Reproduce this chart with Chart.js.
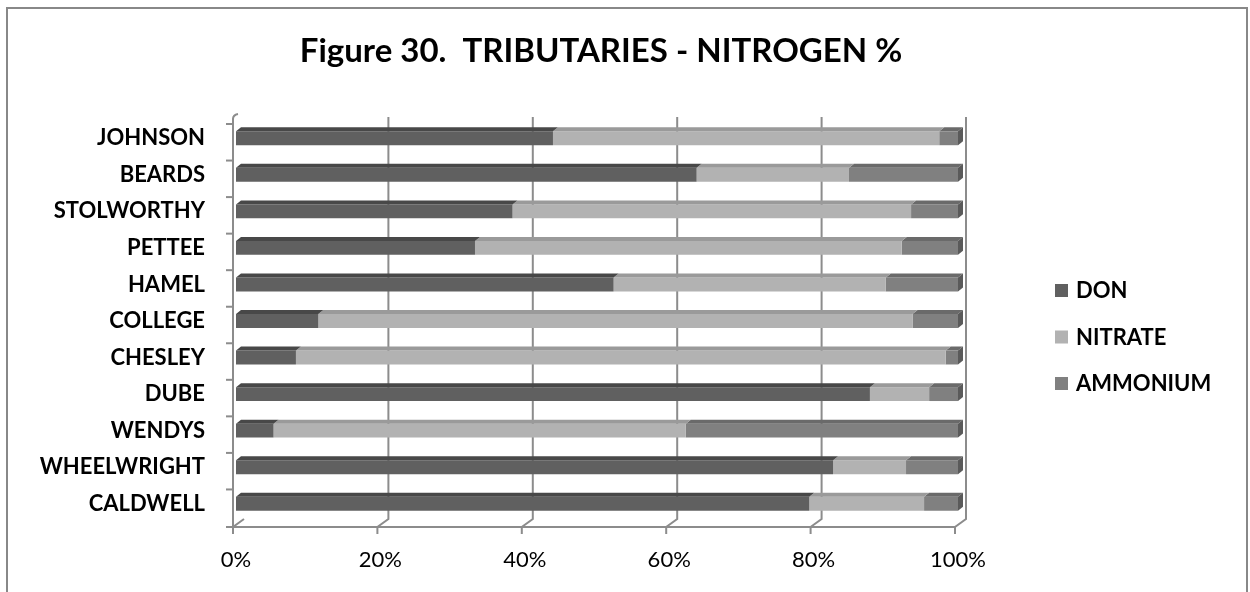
<!DOCTYPE html>
<html>
<head>
<meta charset="utf-8">
<title>Figure 30. Tributaries - Nitrogen %</title>
<script src="https://cdn.jsdelivr.net/npm/chart.js@4.4.1/dist/chart.umd.min.js"></script>
<style>
    html, body { margin: 0; padding: 0; background: #fff; }
    #wrap { width: 1250px; height: 592px; position: relative; }
</style>
</head>
<body>
<div id="wrap"><canvas id="nitrogenChart" width="1250" height="592"></canvas></div>
<script>
// Tributaries, top to bottom as in the figure
const tributaries = ['JOHNSON', 'BEARDS', 'STOLWORTHY', 'PETTEE', 'HAMEL', 'COLLEGE',
    'CHESLEY', 'DUBE', 'WENDYS', 'WHEELWRIGHT', 'CALDWELL'];

// Share of total nitrogen (%)
const donPct      = [43.9, 63.8, 38.3, 33.1, 52.3, 11.4, 8.3, 87.8, 5.2, 82.7, 79.4];
const nitratePct  = [53.5, 21.1, 55.2, 59.1, 37.7, 82.3, 90.0, 8.2, 57.1, 10.1, 15.9];
const ammoniumPct = [2.6, 15.1, 6.5, 7.8, 10.0, 6.3, 1.7, 4.0, 37.7, 7.2, 4.7];

const seriesNames = ['DON', 'NITRATE', 'AMMONIUM'];
const xTicks = [0, 20, 40, 60, 80, 100];

const seriesColors = ['#606060', '#b2b2b2', '#808080'];
const topColors = ['#484848', '#9a9a9a', '#6a6a6a'];
const sideColor = '#5a5a5a';
const lineGrey = '#8c8c8c';
const fontFamily = 'Lato, "Open Sans", sans-serif';

const ctx = document.getElementById('nitrogenChart').getContext('2d');

// Back wall grid, left wall and floor, drawn behind the bars
const frame3d = {
    id: 'frame3d',
    beforeDatasetsDraw(chart) {
        const {ctx, chartArea: a, scales: {x}} = chart;
        const floorY = a.bottom + 5;
        const backTop = a.top - 3;
        const backBottom = a.bottom - 3;
        ctx.save();
        ctx.strokeStyle = lineGrey;
        ctx.lineWidth = 2;
        xTicks.forEach(v => {
            const p = x.getPixelForValue(v);
            ctx.beginPath();
            if (v === 0) {
                ctx.moveTo(p + 8, backBottom);
            } else {
                ctx.moveTo(p + 8, backTop);
                ctx.lineTo(p + 8, backBottom);
            }
            ctx.lineTo(p - 3, floorY);
            ctx.lineTo(p - 3, floorY + 7);
            ctx.stroke();
        });
        // floor front edge
        const x0 = x.getPixelForValue(0) - 3;
        const x1 = x.getPixelForValue(100) - 3;
        ctx.beginPath();
        ctx.moveTo(x0, floorY);
        ctx.lineTo(x1, floorY);
        ctx.stroke();
        // left wall with category ticks
        ctx.beginPath();
        ctx.moveTo(x0, floorY);
        ctx.lineTo(x0, a.top - 1);
        ctx.quadraticCurveTo(x0, a.top - 5, x0 + 5, a.top - 6);
        ctx.stroke();
        const n = tributaries.length;
        for (let i = 0; i < n; i++) {
            const yy = a.top + (a.bottom - a.top) * i / n + 4;
            ctx.beginPath();
            ctx.moveTo(x0 - 7, yy);
            ctx.lineTo(x0, yy);
            ctx.stroke();
        }
        ctx.beginPath();
        ctx.moveTo(x0 - 7, floorY);
        ctx.lineTo(x0, floorY);
        ctx.stroke();
        ctx.restore();
    },
    afterDatasetsDraw(chart) {
        const {ctx} = chart;
        const dx = 5, dy = 4;
        const last = chart.data.datasets.length - 1;
        ctx.save();
        for (let di = last; di >= 0; di--) {
            const meta = chart.getDatasetMeta(di);
            meta.data.forEach(bar => {
                const {x: xe, y: yc, base, height} = bar.getProps(['x', 'y', 'base', 'height'], true);
                const top = yc - height / 2;
                const bottom = yc + height / 2;
                ctx.fillStyle = topColors[di];
                ctx.beginPath();
                ctx.moveTo(base, top);
                ctx.lineTo(base + dx, top - dy);
                ctx.lineTo(xe + dx, top - dy);
                ctx.lineTo(xe, top);
                ctx.closePath();
                ctx.fill();
                if (di === last) {
                    ctx.fillStyle = sideColor;
                    ctx.beginPath();
                    ctx.moveTo(xe, top);
                    ctx.lineTo(xe + dx, top - dy);
                    ctx.lineTo(xe + dx, bottom - dy);
                    ctx.lineTo(xe, bottom);
                    ctx.closePath();
                    ctx.fill();
                }
            });
        }
        ctx.restore();
    },
    afterDraw(chart) {
        const {ctx} = chart;
        ctx.save();
        // outer border
        ctx.strokeStyle = '#888';
        ctx.lineWidth = 2;
        ctx.strokeRect(7, 8, 1240, 600);
        // title
        ctx.fillStyle = '#000';
        ctx.font = 'bold 33px ' + fontFamily;
        ctx.textAlign = 'center';
        ctx.textBaseline = 'alphabetic';
        ctx.fillText('Figure 30.  TRIBUTARIES - NITROGEN %', 601, 62);
        // legend
        ctx.font = 'bold 22px ' + fontFamily;
        ctx.textAlign = 'left';
        ctx.textBaseline = 'middle';
        seriesNames.forEach((name, i) => {
            const cy = 290 + i * 46.5;
            ctx.fillStyle = seriesColors[i];
            ctx.fillRect(1055, cy - 6, 13, 13);
            ctx.fillStyle = '#000';
            ctx.fillText(name, 1076, cy + 1);
        });
        ctx.restore();
    }
};

new Chart(ctx, {
    type: 'bar',
    data: {
        labels: tributaries,
        datasets: [
            {label: seriesNames[0], data: donPct, backgroundColor: seriesColors[0]},
            {label: seriesNames[1], data: nitratePct, backgroundColor: seriesColors[1]},
            {label: seriesNames[2], data: ammoniumPct, backgroundColor: seriesColors[2]},
        ],
    },
    options: {
        indexAxis: 'y',
        responsive: false,
        animation: false,
        devicePixelRatio: 1,
        datasets: {
            bar: {barPercentage: 0.38, categoryPercentage: 1, borderWidth: 0},
        },
        layout: {padding: {top: 120, right: 292, left: 0, bottom: 0}},
        scales: {
            x: {
                stacked: true,
                min: 0,
                max: 100,
                grid: {display: false, drawTicks: false},
                border: {display: false},
                ticks: {
                    stepSize: 20,
                    padding: 25,
                    color: '#000',
                    font: {family: fontFamily, size: 22},
                    callback: v => v + '%',
                },
                afterFit(scale) { scale.height = 70; },
            },
            y: {
                stacked: true,
                grid: {display: false, drawTicks: false},
                border: {display: false},
                ticks: {
                    padding: 31,
                    color: '#000',
                    font: {family: fontFamily, size: 22, weight: 'bold'},
                },
                afterFit(scale) { scale.width = 236; },
            },
        },
        plugins: {
            legend: {display: false},
            tooltip: {enabled: false},
        },
    },
    plugins: [frame3d],
});
</script>
</body>
</html>
